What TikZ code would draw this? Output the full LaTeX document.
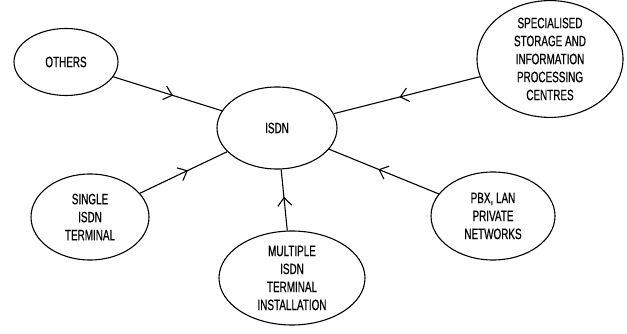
\documentclass[tikz,border=0pt]{standalone}
\usepackage{fontspec}
\setmainfont{Liberation Sans}[FakeStretch=0.66,FakeBold=0.6]
\usetikzlibrary{shapes.geometric,arrows.meta,decorations.markings}
\begin{document}
\begin{tikzpicture}[x=1pt,y=-1pt,
  bubble/.style={ellipse,draw,line width=1.1pt,inner sep=0pt,align=center,
    font=\fontsize{15}{18}\selectfont},
  feed/.style={line width=1.1pt,postaction={decorate},
    decoration={markings,mark=at position 0.55 with
      {\arrow{Straight Barb[length=8pt,width=14pt,line width=1.1pt]}}}}]
  \useasboundingbox (0,0) rectangle (627,334);
  \node[bubble,minimum width=104pt,minimum height=67pt] (oth) at (66,62) {OTHERS};
  \node[bubble,minimum width=120pt,minimum height=82pt] (isdn) at (277,128) {ISDN};
  \node[bubble,minimum width=146pt,minimum height=102pt] (spc) at (550,59)
    {SPECIALISED\\STORAGE AND\\INFORMATION\\PROCESSING\\CENTRES};
  \node[bubble,minimum width=118pt,minimum height=86pt] (sgl) at (90,217)
    {SINGLE\\ISDN\\TERMINAL};
  \node[bubble,minimum width=146pt,minimum height=94pt] (mul) at (292,278)
    {MULTIPLE\\ISDN\\TERMINAL\\INSTALLATION};
  \node[bubble,minimum width=124pt,minimum height=88pt] (pbx) at (493,216)
    {PBX, LAN\\PRIVATE\\NETWORKS};
  \draw[feed] (oth) -- (isdn);
  \draw[feed] (spc) -- (isdn);
  \draw[feed] (sgl) -- (isdn);
  \draw[feed] (mul) -- (isdn);
  \draw[feed] (pbx) -- (isdn);
\end{tikzpicture}
\end{document}
